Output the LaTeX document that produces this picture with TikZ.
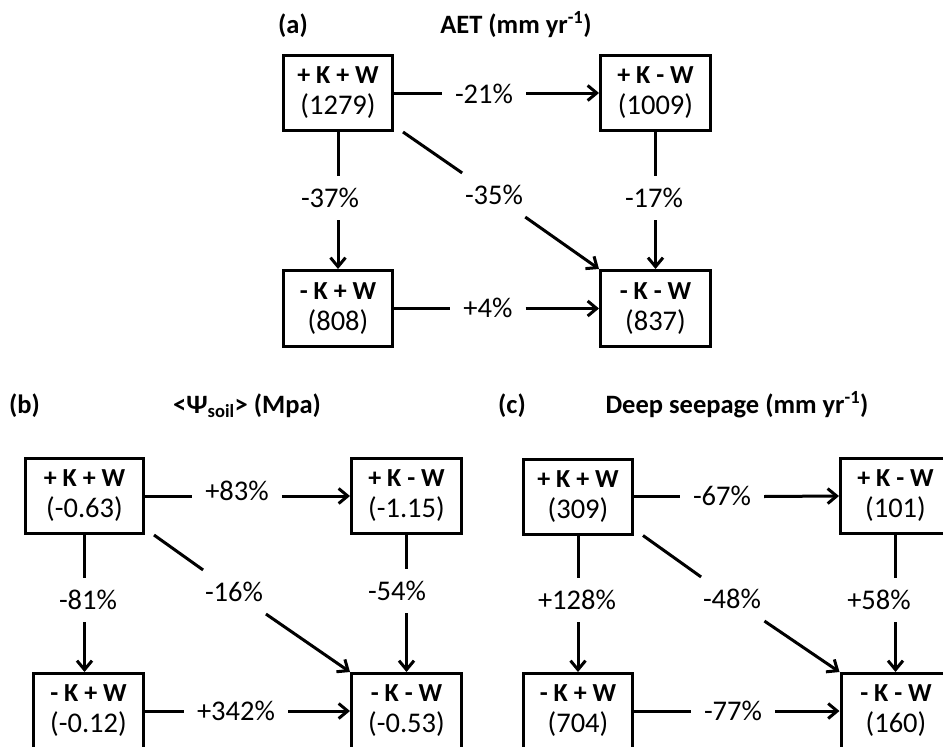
\documentclass[tikz,border=0pt]{standalone}
\usepackage{fontspec}
\setmainfont{Carlito}
\usetikzlibrary{arrows.meta}
\newcommand\bxtxt[2]{{\fontsize{26}{31}\selectfont\bfseries #1}\\#2}
\tikzset{
  box/.style={draw, line width=3pt, minimum width=109pt, minimum height=75pt, inner sep=0pt, align=center, font=\fontsize{28.5}{31}\selectfont},
  pct/.style={inner xsep=13pt, inner ysep=12pt, font=\fontsize{28.5}{31}\selectfont},
  conn/.style={line width=3pt},
  arr/.style={line width=3pt, -{Straight Barb[length=9pt,width=15pt]}},
  ttl/.style={font=\fontsize{26.5}{31}\selectfont\bfseries, anchor=base, inner sep=0pt},
}
\begin{document}
\begin{tikzpicture}[x=1pt,y=-1pt]
\clip (0,0) rectangle (943,747);
\fill[white] (0,0) rectangle (943,747);
% ---------- (a) ----------
\node[ttl] (ta) at (293,33) {(a)};
\node[ttl] (tat) at (516,33) {AET (mm yr\textsuperscript{-1})};
\node[box] (a1) at (338,93) {\bxtxt{+ K + W}{(1279)}};
\node[box, minimum width=110pt] (a2) at (655.5,93) {\bxtxt{+ K - W}{(1009)}};
\node[box, minimum height=76pt] (a3) at (338,308.5) {\bxtxt{- K + W}{(808)}};
\node[box, minimum width=110pt, minimum height=76pt] (a4) at (655.5,308.5) {\bxtxt{- K - W}{(837)}};
\node[pct] (a12) at (484,94) {-21\%};
\node[pct] (a13) at (330,198) {-37\%};
\node[pct] (a24) at (654,198) {-17\%};
\node[pct] (a14) at (494,195) {-35\%};
\node[pct] (a34) at (488,308) {+4\%};
\draw[conn] (a1.east) -- (a12.west |- a1.east);
\draw[arr] (a12.east |- a1.east) -- (a2.west);
\draw[conn] (a1.south) -- (a1.south |- a13.north);
\draw[arr] (a1.south |- a13.south) -- (a3.north);
\draw[conn] (a2.south) -- (a2.south |- a24.north);
\draw[arr] (a2.south |- a24.south) -- (a4.north);
\draw[conn] ([xshift=9pt]a1.south east) -- (a14);
\draw[arr] (a14) -- (a4.north west);
\draw[conn] (a3.east) -- (a34.west |- a3.east);
\draw[arr] (a34.east |- a3.east) -- (a4.west);
% ---------- (b) ----------
\node[ttl] (tb) at (24.5,413) {(b)};
\node[ttl] (tbt) at (247,413) {<Ψ\textsubscript{soil}> (Mpa)};
\node[box, minimum width=118pt] (b1) at (84.5,496) {\bxtxt{+ K + W}{(-0.63)}};
\node[box, minimum width=110pt] (b2) at (406.5,496) {\bxtxt{+ K - W}{(-1.15)}};
\node[box, minimum width=110pt] (b3) at (88.5,711) {\bxtxt{- K + W}{(-0.12)}};
\node[box, minimum width=110pt] (b4) at (406.5,711) {\bxtxt{- K - W}{(-0.53)}};
\node[pct] (b12) at (237,491) {+83\%};
\node[pct] (b13) at (88,600) {-81\%};
\node[pct] (b24) at (397,591) {-54\%};
\node[pct] (b14) at (234,592) {-16\%};
\node[pct] (b34) at (236,711) {+342\%};
\draw[conn] (b1.east) -- (b12.west |- b1.east);
\draw[arr] (b12.east |- b1.east) -- (b2.west);
\draw[conn] (b1.south) -- (b1.south |- b13.north);
\draw[arr] (b1.south |- b13.south) -- (b1.south |- b3.north);
\draw[conn] (b2.south) -- (b2.south |- b24.north);
\draw[arr] (b2.south |- b24.south) -- (b4.north);
\draw[conn] ([xshift=9pt]b1.south east) -- (b14);
\draw[arr] (b14) -- (b4.north west);
\draw[conn] (b3.east) -- (b34.west |- b3.east);
\draw[arr] (b34.east |- b3.east) -- (b4.west);
% ---------- (c) ----------
\node[ttl] (tc) at (512,413) {(c)};
\node[ttl] (tct) at (737,413) {Deep seepage (mm yr\textsuperscript{-1})};
\node[box] (c1) at (578,496.5) {\bxtxt{+ K + W}{(309)}};
\node[box, minimum width=110pt] (c2) at (895.5,496) {\bxtxt{+ K - W}{(101)}};
\node[box] (c3) at (578,711) {\bxtxt{- K + W}{(704)}};
\node[box, minimum width=110pt] (c4) at (896,711) {\bxtxt{- K - W}{(160)}};
\node[pct] (c12) at (722,496) {-67\%};
\node[pct] (c13) at (577,600) {+128\%};
\node[pct] (c24) at (879,600) {+58\%};
\node[pct] (c14) at (732,599) {-48\%};
\node[pct] (c34) at (733,711) {-77\%};
\draw[conn] (c1.east) -- (c12.west |- c1.east);
\draw[arr] (c12.east |- c1.east) -- (c2.west);
\draw[conn] (c1.south) -- (c1.south |- c13.north);
\draw[arr] (c1.south |- c13.south) -- (c3.north);
\draw[conn] (c2.south) -- (c2.south |- c24.north);
\draw[arr] (c2.south |- c24.south) -- (c2.south |- c4.north);
\draw[conn] ([xshift=9pt]c1.south east) -- (c14);
\draw[arr] (c14) -- (c4.north west);
\draw[conn] (c3.east) -- (c34.west |- c3.east);
\draw[arr] (c34.east |- c3.east) -- (c4.west);
\end{tikzpicture}
\end{document}
